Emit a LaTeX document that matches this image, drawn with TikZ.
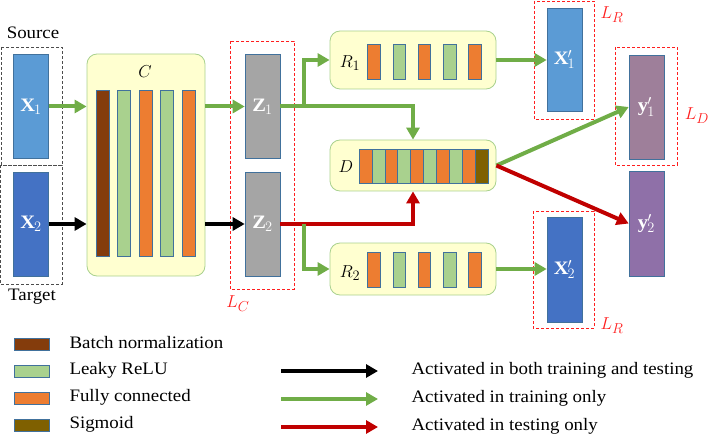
\documentclass[tikz,border=0pt]{standalone}
\usepackage{fontspec}
\setmainfont{Liberation Serif}[FakeStretch=1.08]
\usetikzlibrary{arrows.meta}
\usepackage{color}
\definecolor{cornflower}{RGB}{91,155,213}
\definecolor{royalblue}{RGB}{68,114,196}
\definecolor{edgeblue}{RGB}{65,113,156}
\definecolor{lightgrey}{RGB}{165,165,165}
\definecolor{mauve}{RGB}{158,127,154}
\definecolor{lavender}{RGB}{143,112,168}
\definecolor{paleyellow}{RGB}{255,255,208}
\definecolor{lightgreen}{RGB}{169,209,142}
\definecolor{leafgreen}{RGB}{112,173,71}
\definecolor{darkred}{RGB}{192,0,0}
\definecolor{rust}{RGB}{132,60,12}
\definecolor{orange}{RGB}{237,125,49}
\definecolor{olive}{RGB}{127,96,0}
\definecolor{lossred}{RGB}{255,30,30}

\tikzset{
  block/.style={rectangle, draw=lightgreen, fill=paleyellow, rounded corners=10pt, line width=0.8pt, inner sep=0pt},
  vec/.style={rectangle, draw=edgeblue, line width=0.6pt, minimum width=35pt, minimum height=104pt, inner sep=0pt, text=white, font=\fontsize{19}{22}\selectfont},
  bar/.style={rectangle, draw=edgeblue, line width=0.6pt, minimum width=12.5pt, inner sep=0pt},
  lossbox/.style={draw=lossred, dash pattern=on 3pt off 2pt, line width=0.7pt},
  greybox/.style={draw=black!70, dash pattern=on 3pt off 2pt, line width=0.8pt},
  loss/.style={text=lossred, font=\fontsize{19}{22}\selectfont},
  mathlabel/.style={font=\fontsize{19}{22}\selectfont},
  trainarrow/.style={draw=leafgreen, line width=4pt, -{Triangle[length=12pt,width=13pt]}},
  testarrow/.style={draw=darkred, line width=4pt, -{Triangle[length=12pt,width=13pt]}},
  botharrow/.style={draw=black, line width=4pt, -{Triangle[length=12pt,width=13pt]}}
}

\begin{document}
\begin{tikzpicture}[x=1pt, y=-1pt, font=\fontsize{17.5}{21}\selectfont]
\useasboundingbox (0,0) rectangle (708,438);

% Inputs
\node at (33,33) {Source};
\node at (32,297) {Target};
\draw[greybox] (1,47) rectangle (62,165);
\draw[greybox] (0,165) rectangle (62,284);
\node[vec, fill=cornflower] (x1) at (31,106.5) {$\mathbf{X}_1$};
\node[vec, fill=royalblue] (x2) at (31,224) {$\mathbf{X}_2$};

% Encoder C
\node[block, minimum width=118pt, minimum height=222pt] (cnet) at (146,165) {};
\node[mathlabel] at (145,72) {$C$};
\foreach \i/\col in {0/rust,1/lightgreen,2/orange,3/lightgreen,4/orange}
  \node[bar, fill=\col, minimum width=13pt, minimum height=166pt] (cbar\i) at ({102.5+21.5*\i},173) {};

% Features
\draw[lossbox] (230,41) rectangle (294,289);
\node[loss] at (238,304) {$L_C$};
\node[vec, fill=lightgrey] (z1) at (262.5,106.5) {$\mathbf{Z}_1$};
\node[vec, fill=lightgrey] (z2) at (262.5,224) {$\mathbf{Z}_2$};

% Decoders R1, R2 and discriminator D
\node[block, minimum width=166pt, minimum height=58pt] (r1) at (413,60) {};
\node[block, minimum width=166pt, minimum height=51pt] (dnet) at (413,165.5) {};
\node[block, minimum width=166pt, minimum height=52pt] (r2) at (413,269) {};
\node[mathlabel] at (350,63) {$R_1$};
\node[mathlabel] at (346,167) {$D$};
\node[mathlabel] at (350,273) {$R_2$};
\foreach \i/\col in {0/orange,1/lightgreen,2/orange,3/lightgreen,4/orange} {
  \node[bar, fill=\col, minimum height=35pt] (rbar\i) at ({374+25.25*\i},61.5) {};
  \node[bar, fill=\col, minimum height=35pt] (sbar\i) at ({374+25.25*\i},269.5) {};
}
\foreach \i/\col in {0/orange,1/lightgreen,2/orange,3/lightgreen,4/orange,5/lightgreen,6/orange,7/lightgreen,8/orange,9/olive}
  \node[bar, fill=\col, minimum width=12.9pt, minimum height=34pt] (dbar\i) at ({365.45+12.9*\i},166) {};

% Outputs
\draw[lossbox] (534,1) rectangle (594,119);
\draw[lossbox] (533,211) rectangle (594,328);
\draw[lossbox] (615,47) rectangle (677,165);
\node[loss] at (612,15) {$L_R$};
\node[loss] at (612,326) {$L_R$};
\node[loss] at (697,116) {$L_D$};
\node[vec, fill=cornflower, minimum height=103pt] (x1p) at (564.5,59.5) {$\mathbf{X}'_1$};
\node[vec, fill=royalblue, minimum height=105pt] (x2p) at (564.5,269.5) {$\mathbf{X}'_2$};
\node[vec, fill=mauve] (y1p) at (646.5,107) {$\mathbf{y}'_1$};
\node[vec, fill=lavender, minimum height=105pt] (y2p) at (646.5,223.5) {$\mathbf{y}'_2$};

% Connections
\coordinate (splitA) at (304,106.5);
\coordinate (splitB) at (304,224);
\draw[trainarrow] (x1) -- (cnet.west |- x1);
\draw[botharrow] (x2) -- (cnet.west |- x2);
\draw[trainarrow] (cnet.east |- z1) -- (z1);
\draw[botharrow] (cnet.east |- z2) -- (z2);
\draw[trainarrow] (z1.east) -| (dnet.north);
\draw[trainarrow] (splitA) |- (r1.west);
\draw[testarrow] (z2.east) -| (dnet.south);
\draw[trainarrow] (splitB) |- (r2.west);
\draw[trainarrow] (r1.east) -- (x1p.west |- r1.east);
\draw[trainarrow] (r2.east) -- (x2p.west |- r2.east);
\draw[trainarrow] (dnet.east) -- (y1p.west);
\draw[testarrow] (dnet.east) -- (y2p.west);

% Legend
\foreach \i/\col/\txt in {0/rust/Batch normalization,1/lightgreen/Leaky ReLU,2/orange/Fully connected,3/olive/Sigmoid} {
  \node[bar, fill=\col, minimum width=35pt, minimum height=12pt] (key\i) at (31.5,{344+27*\i}) {};
  \node[anchor=west] (keytxt\i) at (66,{343+27*\i}) {\txt};
}
\foreach \i/\sty/\txt in {0/botharrow/Activated in both training and testing,1/trainarrow/Activated in training only,2/testarrow/Activated in testing only} {
  \coordinate (arrA\i) at (281,{371+28*\i});
  \coordinate (arrB\i) at (378,{371+28*\i});
  \draw[\sty] (arrA\i) -- (arrB\i);
  \node[anchor=west] (arrtxt\i) at (408,{370+28*\i}) {\txt};
}
\end{tikzpicture}
\end{document}
